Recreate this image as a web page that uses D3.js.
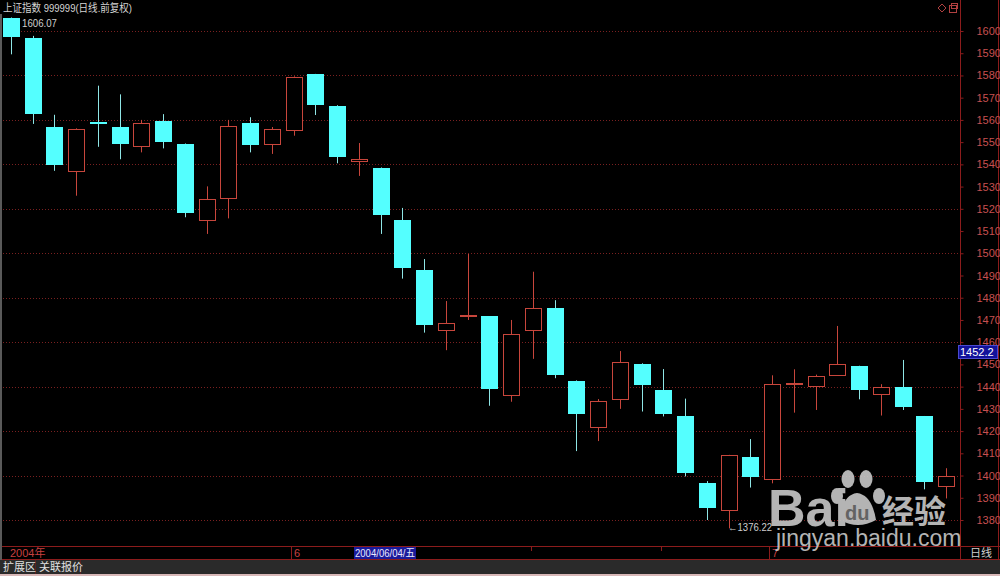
<!DOCTYPE html>
<html><head><meta charset="utf-8">
<script src="https://cdn.jsdelivr.net/npm/d3@7"></script>
<style>
html,body{margin:0;padding:0;background:#000;overflow:hidden;}
svg{display:block;}
text{font-family:"Liberation Sans","Noto Sans CJK SC",sans-serif;}
</style></head><body>
<svg id="chart" width="1000" height="576"></svg>
<script>
// ---- data ----
const dates = [
  "2004/05/13","2004/05/14","2004/05/17","2004/05/18","2004/05/19","2004/05/20","2004/05/21",
  "2004/05/24","2004/05/25","2004/05/26","2004/05/27","2004/05/28","2004/05/31",
  "2004/06/01","2004/06/02","2004/06/03","2004/06/04","2004/06/07","2004/06/08","2004/06/09",
  "2004/06/10","2004/06/11","2004/06/14","2004/06/15","2004/06/16","2004/06/17","2004/06/18",
  "2004/06/21","2004/06/22","2004/06/23","2004/06/24","2004/06/25","2004/06/28","2004/06/29","2004/06/30",
  "2004/07/01","2004/07/02","2004/07/05","2004/07/06","2004/07/07","2004/07/08","2004/07/09",
  "2004/07/12","2004/07/13"
];
const openV = [1606.0,1596.9,1556.8,1537.1,1559.2,1556.8,1548.3,1559.7,1549.2,1515.1,1524.7,1558.5,1549.0,
  1555.6,1580.5,1566.4,1541.3,1538.5,1514.9,1492.5,1465.5,1471.8,1471.6,1436.2,1465.5,1475.5,1442.7,
  1421.7,1434.3,1450.4,1438.4,1426.7,1396.6,1384.5,1408.5,
  1398.3,1441.3,1440.3,1445.4,1449.3,1436.5,1439.8,1426.7,1395.5];
const highV = [1606.07,1597.8,1562.3,1556.2,1575.4,1571.5,1560.0,1562.6,1549.4,1530.1,1560.0,1561.2,1556.8,
  1579.6,1580.7,1566.6,1549.6,1538.6,1520.4,1497.4,1478.5,1499.7,1471.7,1470.0,1491.7,1478.9,1442.8,
  1434.4,1456.0,1450.5,1447.9,1434.6,1397.5,1409.3,1416.4,
  1445.1,1447.8,1445.4,1467.3,1449.4,1441.1,1452.0,1426.8,1403.3];
const lowV = [1589.5,1558.2,1537.1,1525.9,1547.9,1542.3,1545.4,1547.2,1516.2,1508.7,1515.7,1545.4,1544.7,
  1552.9,1562.2,1540.5,1534.8,1508.7,1488.6,1464.3,1456.4,1470.0,1431.4,1433.2,1452.5,1443.8,1411.0,
  1415.5,1430.0,1428.8,1426.6,1399.6,1380.0,1376.22,1394.6,
  1396.5,1428.3,1429.5,1445.3,1434.3,1427.0,1429.5,1393.8,1389.7];
const closeV = [1597.4,1562.5,1539.7,1555.9,1558.2,1549.0,1558.6,1550.1,1518.0,1524.4,1557.1,1548.7,1556.0,
  1579.4,1566.9,1543.3,1542.6,1517.2,1493.5,1467.7,1468.5,1472.1,1438.9,1463.7,1475.5,1445.4,1427.6,
  1433.7,1451.0,1440.8,1427.9,1401.1,1385.3,1409.1,1399.4,
  1441.2,1441.6,1445.0,1450.2,1438.5,1440.0,1430.7,1397.1,1400.0];
const yTickValues = [1380,1390,1400,1410,1420,1430,1440,1450,1460,1470,1480,1490,1500,1510,1520,1530,1540,1550,1560,1570,1580,1590,1600];
const gridValues = [1380,1400,1420,1440,1460,1480,1500,1520,1540,1560,1580,1600];
const titleText = "上证指数 999999(日线.前复权)";
const highLabel = "1606.07";
const lowLabel = "←1376.22";
const cursorValue = "1452.2";
const cursorDate = "2004/06/04/五";

// ---- colours ----
const C_UP = "#c8463c", C_DOWN = "#54ffff", C_WICK_DOWN = "#8fe6e6";
const C_FRAME = "#8c1c1c", C_GRID = "#7a2020", C_AXIS_TXT = "#c85050";

const svg = d3.select("#chart");
svg.append("rect").attr("width",1000).attr("height",576).attr("fill","#000");

const x = d3.scaleBand().domain(dates).range([0,957]).paddingInner(0.26).paddingOuter(0.13);
const y = d3.scaleLinear().domain([1380,1600]).range([520,31]);
const cxOf = d => Math.round(x(d) + x.bandwidth()/2);

// grid
svg.append("g").selectAll("line").data(gridValues).join("line")
  .attr("x1",3).attr("x2",958)
  .attr("y1",d=>Math.round(y(d))+0.5).attr("y2",d=>Math.round(y(d))+0.5)
  .attr("stroke",C_GRID).attr("stroke-width",1).attr("stroke-dasharray","1,2");

// frame lines
const frame = svg.append("g").attr("stroke",C_FRAME).attr("stroke-width",1);
frame.append("line").attr("x1",960.5).attr("x2",960.5).attr("y1",0).attr("y2",560);
frame.append("line").attr("x1",998.5).attr("x2",998.5).attr("y1",0).attr("y2",560);
frame.append("line").attr("x1",0).attr("x2",1000).attr("y1",546.5).attr("y2",546.5);
frame.append("line").attr("x1",0).attr("x2",1000).attr("y1",559.5).attr("y2",559.5);
svg.append("rect").attr("x",0).attr("y",14).attr("width",2).attr("height",546).attr("fill","#5a5a5a");

// right axis
const axis = svg.append("g").attr("transform","translate(960.5,0)")
  .call(d3.axisRight(y).tickValues(yTickValues).tickSize(3).tickPadding(13).tickFormat(d3.format("d")));
axis.select(".domain").remove();
axis.selectAll(".tick line").attr("stroke",C_FRAME);
axis.selectAll(".tick text").attr("fill",C_AXIS_TXT).attr("font-size",11)
  .attr("font-family","'Liberation Sans',sans-serif");

// candles
const g = svg.append("g");
dates.forEach((d,i)=>{
  const o=openV[i], h=highV[i], l=lowV[i], c=closeV[i];
  const cx = cxOf(d);
  const up = c >= o;
  if (up) {
    const yt = Math.round(y(c)), yb = Math.max(Math.round(y(o)), yt+1);
    g.append("line").attr("x1",cx+0.5).attr("x2",cx+0.5).attr("y1",y(h)).attr("y2",yt).attr("stroke",C_UP);
    g.append("line").attr("x1",cx+0.5).attr("x2",cx+0.5).attr("y1",yb).attr("y2",y(l)).attr("stroke",C_UP);
    g.append("rect").attr("x",cx-8+0.5).attr("y",yt+0.5).attr("width",16).attr("height",yb-yt)
      .attr("fill","#000").attr("stroke",C_UP).attr("stroke-width",1);
  } else {
    const yt = Math.round(y(o)), yb = Math.max(Math.round(y(c)), yt+1);
    g.append("line").attr("x1",cx+0.5).attr("x2",cx+0.5).attr("y1",y(h)).attr("y2",y(l)).attr("stroke",C_WICK_DOWN);
    g.append("rect").attr("x",cx-8).attr("y",yt).attr("width",17).attr("height",Math.max(2,yb-yt))
      .attr("fill",C_DOWN);
  }
});

// title and labels
svg.append("text").attr("x",3).attr("y",12).attr("fill","#d4d4d4").attr("font-size",11)
  .attr("textLength",129).attr("lengthAdjust","spacingAndGlyphs").text(titleText);
svg.append("text").attr("x",22).attr("y",27).attr("fill","#cfcfcf").attr("font-size",10.5)
  .attr("textLength",35).attr("lengthAdjust","spacingAndGlyphs").text(highLabel);
const iLow = lowV.indexOf(d3.min(lowV));
svg.append("text").attr("x",cxOf(dates[iLow])-1).attr("y",531).attr("fill","#cfcfcf").attr("font-size",10.5)
  .attr("textLength",44).attr("lengthAdjust","spacingAndGlyphs").text(lowLabel);

// top-right icons
svg.append("path").attr("d","M942,4 L946,8 L942,12 L938,8 Z").attr("fill","none").attr("stroke","#b04040");
svg.append("rect").attr("x",949.5).attr("y",5.5).attr("width",7).attr("height",7).attr("fill","none").attr("stroke","#b04040");
svg.append("rect").attr("x",951.5).attr("y",3.5).attr("width",6).attr("height",5).attr("fill","none").attr("stroke","#b04040");

// cursor value box
svg.append("rect").attr("x",958.5).attr("y",345.5).attr("width",39).attr("height",13).attr("fill","#12129a").attr("stroke","#4a4ad0");
svg.append("text").attr("x",960).attr("y",356).attr("fill","#ffffff").attr("font-size",11).text(cursorValue);

// bottom date strip
const monthStarts = [13, 35];
svg.append("text").attr("x",10).attr("y",557).attr("fill","#c84040").attr("font-size",11).text("2004年");
monthStarts.forEach(i=>{
  const cx = cxOf(dates[i]);
  svg.append("line").attr("x1",cx-2.5).attr("x2",cx-2.5).attr("y1",547).attr("y2",559).attr("stroke",C_FRAME);
  svg.append("text").attr("x",cx).attr("y",557).attr("fill","#c84040").attr("font-size",11).text(+dates[i].slice(5,7));
});
[24, 30].forEach(i=>{
  const cx = cxOf(dates[i]);
  svg.append("line").attr("x1",cx-1.5).attr("x2",cx-1.5).attr("y1",547).attr("y2",551).attr("stroke",C_FRAME);
});
const iCur = dates.indexOf("2004/06/04");
const curX = cxOf(dates[iCur]) - 5;
svg.append("rect").attr("x",curX).attr("y",547).attr("width",62).attr("height",12).attr("fill","#1a1a9a");
svg.append("text").attr("x",curX+1).attr("y",557).attr("fill","#e8e8ff").attr("font-size",11)
  .attr("textLength",60).attr("lengthAdjust","spacingAndGlyphs").text(cursorDate);
svg.append("text").attr("x",970).attr("y",557).attr("fill","#d0d0d0").attr("font-size",11).text("日线");

// bottom bar
svg.append("rect").attr("x",0).attr("y",560).attr("width",1000).attr("height",14).attr("fill","#2a2a2a");
svg.append("rect").attr("x",0).attr("y",574).attr("width",1000).attr("height",2).attr("fill","#d8b8b8");
svg.append("line").attr("x1",35.5).attr("x2",35.5).attr("y1",560).attr("y2",574).attr("stroke","#5a2020");
svg.append("line").attr("x1",80.5).attr("x2",80.5).attr("y1",560).attr("y2",574).attr("stroke","#5a2020");
svg.append("text").attr("x",3).attr("y",571).attr("fill","#e0e0e0").attr("font-size",11).text("扩展区");
svg.append("text").attr("x",39).attr("y",571).attr("fill","#e0e0e0").attr("font-size",11).text("关联报价");

// watermark
const wm = svg.append("g").attr("fill","#c8c8c8").attr("opacity",0.9);
wm.append("text").attr("x",768).attr("y",526).attr("font-size",52).attr("font-weight","bold")
  .attr("font-family","'Liberation Sans',sans-serif").text("Bai");
wm.append("ellipse").attr("cx",848).attr("cy",479).attr("rx",6.5).attr("ry",9);
wm.append("ellipse").attr("cx",866).attr("cy",479).attr("rx",6.5).attr("ry",9);
wm.append("ellipse").attr("cx",837).attr("cy",496).attr("rx",6).attr("ry",8);
wm.append("ellipse").attr("cx",879).attr("cy",496).attr("rx",6).attr("ry",8);
wm.append("path").attr("d","M840,520 Q842,495 857,493 Q872,495 876,520 Q858,530 840,520 Z");
wm.append("text").attr("x",845).attr("y",520).attr("font-size",20).attr("font-weight","bold")
  .attr("fill","#6e6e6e").attr("font-family","'Liberation Sans',sans-serif").text("du");
wm.append("text").attr("x",882).attr("y",523).attr("font-size",32).attr("font-weight","bold")
  .attr("font-family","'Noto Sans CJK SC',sans-serif").text("经验");
wm.append("text").attr("x",776).attr("y",546).attr("font-size",23)
  .attr("font-family","'Liberation Sans',sans-serif").text("jingyan.baidu.com");
</script>
</body></html>
